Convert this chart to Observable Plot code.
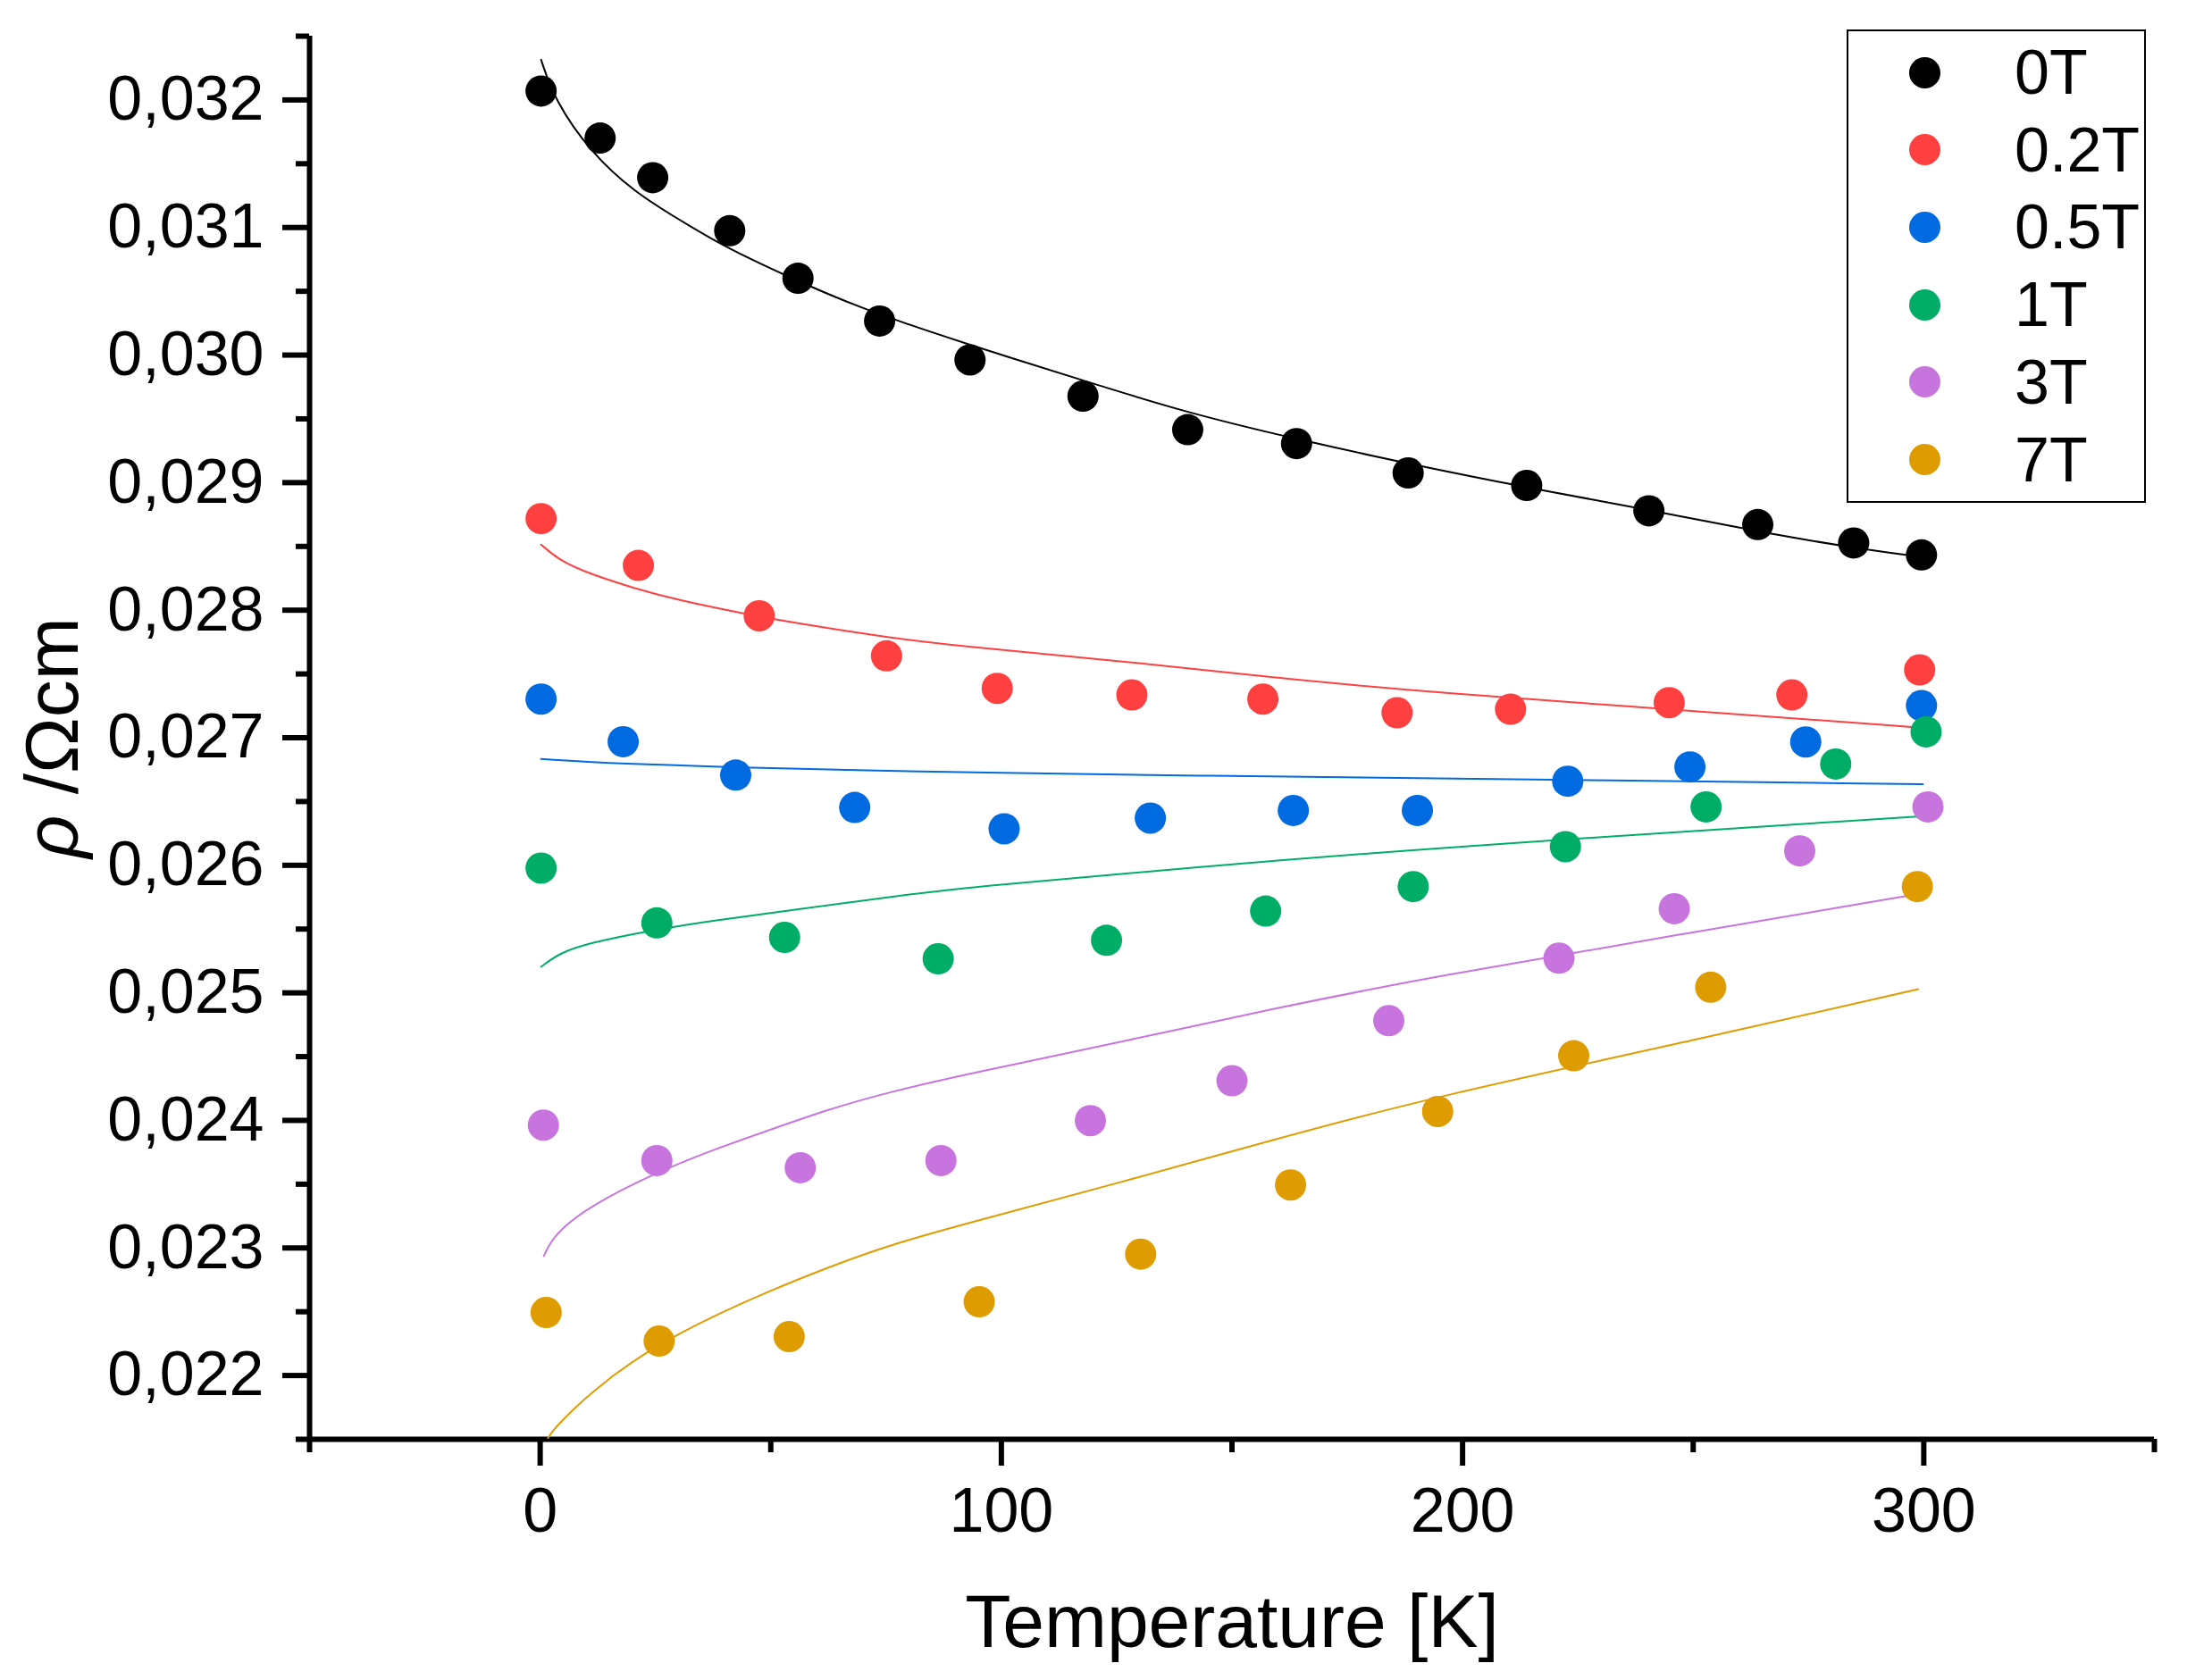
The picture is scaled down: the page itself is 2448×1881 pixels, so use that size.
<!DOCTYPE html>
<html>
<head>
<meta charset="utf-8">
<script src="https://cdn.jsdelivr.net/npm/d3@7"></script>
<script src="https://cdn.jsdelivr.net/npm/@observablehq/plot@0.6"></script>
<style>
  html, body { margin: 0; padding: 0; background: #fff; }
  #wrap { position: relative; width: 2448px; height: 1881px; font-family: "Liberation Sans", Arial, sans-serif; }
  #legend { position: absolute; left: 2067px; top: 33px; width: 335px; height: 530px; box-sizing: border-box; border: 2px solid #000; background: #fff; }
  .row { position: absolute; left: 0; height: 70px; line-height: 70px; font-size: 70px; color: #000; }
  .swatch { position: absolute; left: 67.5px; top: 17.5px; width: 35px; height: 35px; border-radius: 50%; }
  .lbl { position: absolute; left: 186px; top: 0; white-space: nowrap; }
</style>
</head>
<body>
<div id="wrap">
  <div id="chart"></div>
  <div id="legend"></div>
</div>
<script>
const fields = ["0T", "0.2T", "0.5T", "1T", "3T", "7T"]
const colors = ["#000000", "#FF4040", "#006AE0", "#00AD66", "#C874DF", "#DF9C00"]

const xTicks = [0, 100, 200, 300]
const xMinor = [-50, 50, 150, 250, 350]
const yTicks = [0.022, 0.023, 0.024, 0.025, 0.026, 0.027, 0.028, 0.029, 0.030, 0.031, 0.032]
const yMinor = [0.0215, 0.0225, 0.0235, 0.0245, 0.0255, 0.0265, 0.0275, 0.0285, 0.0295, 0.0305, 0.0315, 0.0325]

const xLabel = "Temperature [K]"
const yLabel = "ρ /Ωcm"

// measured points [T, rho]
const dots0T = [[0.2,0.03207],[13.0,0.031701],[24.4,0.031391],[41.1,0.030975],[55.9,0.030602],[73.6,0.030267],[93.2,0.029962],[117.7,0.029678],[140.4,0.029415],[164.0,0.029306],[188.2,0.029076],[213.9,0.028978],[240.4,0.028779],[264.0,0.028671],[284.8,0.028527],[299.5,0.028433]]
const dots02T = [[0.2,0.028718],[21.3,0.028351],[47.5,0.027956],[75.1,0.027642],[99.1,0.027387],[128.3,0.027336],[156.7,0.027303],[185.8,0.027196],[210.4,0.027224],[244.8,0.027275],[271.4,0.027336],[299.1,0.027532]]
const dots05T = [[0.2,0.027303],[18.0,0.026969],[42.4,0.026707],[68.2,0.026453],[100.6,0.026286],[132.3,0.02637],[163.3,0.02643],[190.2,0.02643],[222.8,0.026659],[249.3,0.026771],[274.4,0.026967],[299.5,0.027252]]
const dots1T = [[0.2,0.025978],[25.3,0.025548],[53.0,0.025435],[86.3,0.025267],[122.8,0.025412],[157.3,0.025641],[189.3,0.025833],[222.3,0.026146],[252.8,0.026458],[280.9,0.026794],[300.5,0.027046]]
const dots3T = [[0.7,0.023963],[25.3,0.023685],[56.4,0.023629],[86.9,0.023685],[119.3,0.023998],[150.0,0.024311],[184.0,0.024782],[220.9,0.025272],[245.9,0.02566],[273.1,0.026113],[300.9,0.026458]]
const dots7T = [[1.3,0.022494],[25.8,0.02227],[54.0,0.022305],[95.2,0.022578],[130.2,0.022952],[162.7,0.023494],[194.6,0.02407],[224.1,0.024507],[253.8,0.025044],[298.6,0.025833]]

// fit curves
const fit0T = [[0.2,0.032315],[3.1,0.032002],[10.9,0.031591],[20.5,0.031276],[30.2,0.03106],[39.9,0.03085],[52.8,0.03063],[69.0,0.03037],[92.2,0.03009],[117.8,0.0298],[140,0.02955],[164,0.02934],[188,0.02915],[214,0.02896],[240,0.02879],[267.2,0.028592],[289.8,0.028461],[300,0.028415]]
const fit02T = [[0.2,0.028514],[4.4,0.028384],[10.9,0.028283],[20.5,0.02817],[30.2,0.028077],[43.1,0.027981],[56,0.027894],[75.4,0.027785],[92.2,0.027714],[125.8,0.027602],[159.4,0.027471],[193,0.027354],[254.3,0.0272],[299.2,0.027079]]
const fit05T = [[0.2,0.026833],[17.3,0.026795],[43.1,0.026767],[69,0.026744],[92.2,0.02673],[143.9,0.026701],[193,0.026682],[299.8,0.026636]]
const fit1T = [[0.2,0.025204],[4.4,0.025317],[10.9,0.025392],[22.5,0.02548],[36.7,0.025563],[56,0.025656],[75.4,0.02575],[92.2,0.025827],[142.6,0.025987],[193,0.026136],[300.8,0.026388]]
const fit3T = [[0.8,0.022936],[2.1,0.02304],[5,0.023165],[10.9,0.023328],[23.8,0.023569],[36.7,0.02376],[49.6,0.023923],[62.5,0.024087],[75.4,0.02422],[92.2,0.02436],[125.8,0.024614],[159.4,0.02488],[193,0.025123],[245.9,0.02545],[301.4,0.025791]]
const fit7T = [[1.7,0.02151],[3.1,0.021589],[10.9,0.021869],[23.1,0.022196],[36.7,0.022452],[49.6,0.022662],[62.5,0.022849],[75.4,0.02302],[92.2,0.02319],[125.8,0.023513],[159.4,0.023853],[193,0.02418],[254.3,0.02466],[298.8,0.025029]]

const dotSeries = [dots0T, dots02T, dots05T, dots1T, dots3T, dots7T]
const fitSeries = [fit0T, fit02T, fit05T, fit1T, fit3T, fit7T]

const toRows = list => list.flatMap((pts, i) => pts.map(([T, rho]) => ({field: fields[i], T, rho})))
const dotRows = toRows(dotSeries)
const fitRows = toRows(fitSeries)

const chart = Plot.plot({
  width: 2448,
  height: 1881,
  marginLeft: 346,
  marginRight: 37,
  marginTop: 40,
  marginBottom: 270,
  style: {
    background: "white",
    color: "black",
    fontFamily: "'Liberation Sans', Arial, sans-serif",
    fontSize: "70px",
    overflow: "visible",
    maxWidth: "none"
  },
  x: {domain: [-50, 350], label: null},
  y: {domain: [0.0215, 0.0325], label: null},
  color: {domain: fields, range: colors},
  marks: [
    Plot.ruleX([-50], {strokeWidth: 6}),
    Plot.ruleY([0.0215], {strokeWidth: 6}),
    Plot.axisY({ticks: yTicks, tickSize: 30, tickPadding: 21, strokeWidth: 6, tickFormat: d => d.toFixed(3).replace(".", ","), label: null}),
    Plot.axisY({ticks: yMinor, tickSize: 15, strokeWidth: 6, tickFormat: () => "", label: null}),
    Plot.axisX({ticks: xTicks, tickSize: 30, tickPadding: 24, strokeWidth: 6, label: null}),
    Plot.axisX({ticks: xMinor, tickSize: 15, strokeWidth: 6, tickFormat: () => "", label: null}),
    Plot.line(fitRows, {x: "T", y: "rho", z: "field", stroke: "field", strokeWidth: 2, curve: "basis"}),
    Plot.dot(dotRows, {x: "T", y: "rho", fill: "field", r: 17.5}),
    Plot.text([xLabel], {text: d => d, frameAnchor: "bottom", dy: 232, lineAnchor: "bottom", textAnchor: "middle", fontSize: 84}),
    Plot.text([yLabel], {text: d => d, frameAnchor: "left", dx: -260, rotate: -90, lineAnchor: "bottom", textAnchor: "middle", fontSize: 84})
  ]
})

// italic rho in the y title
chart.querySelectorAll("text").forEach(t => {
  if (t.textContent === yLabel) {
    t.textContent = ""
    const rho = document.createElementNS("http://www.w3.org/2000/svg", "tspan")
    rho.setAttribute("font-style", "italic")
    rho.textContent = "ρ"
    t.append(rho, " /Ωcm")
  }
})

document.getElementById("chart").append(chart)

const legend = d3.select("#legend")
fields.forEach((f, i) => {
  const row = legend.append("div").attr("class", "row").style("top", (11 + i * 86.7) + "px").style("width", "100%")
  row.append("div").attr("class", "swatch").style("background", colors[i])
  row.append("div").attr("class", "lbl").text(f)
})
</script>
</body>
</html>
